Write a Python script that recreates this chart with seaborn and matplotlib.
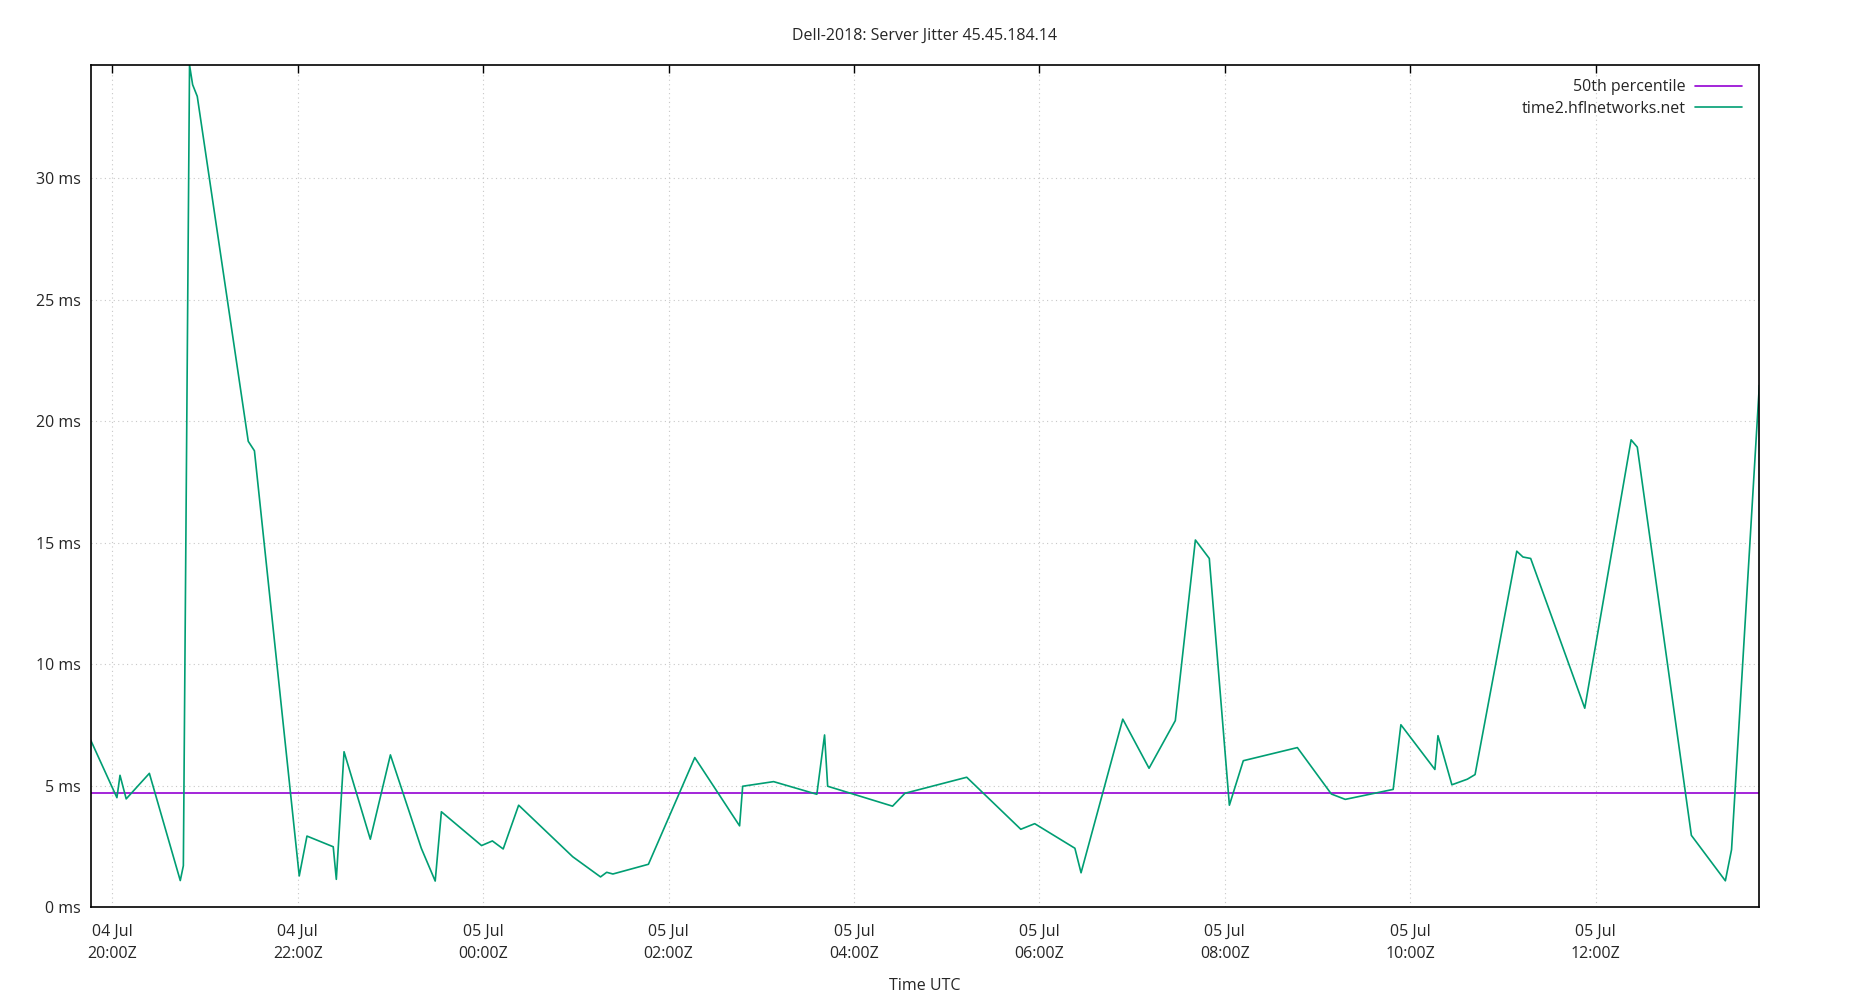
import numpy as np
import pandas as pd
import seaborn as sns
import matplotlib.pyplot as plt
import matplotlib.dates as mdates

# jitter samples for time2.hflnetworks.net (UTC)
times = [
    "07-04 19:46", "07-04 20:03", "07-04 20:05", "07-04 20:09", "07-04 20:24",
    "07-04 20:44", "07-04 20:46", "07-04 20:50", "07-04 20:52", "07-04 20:55",
    "07-04 21:28", "07-04 21:32", "07-04 22:01", "07-04 22:06", "07-04 22:23",
    "07-04 22:25", "07-04 22:30", "07-04 22:47", "07-04 23:00", "07-04 23:20",
    "07-04 23:29", "07-04 23:33", "07-04 23:59", "07-05 00:06", "07-05 00:13",
    "07-05 00:23", "07-05 00:58", "07-05 01:16", "07-05 01:20", "07-05 01:24",
    "07-05 01:47", "07-05 02:17", "07-05 02:46", "07-05 02:48", "07-05 03:08",
    "07-05 03:36", "07-05 03:41", "07-05 03:43", "07-05 04:25", "07-05 04:33",
    "07-05 05:13", "07-05 05:48", "07-05 05:57", "07-05 06:23", "07-05 06:27",
    "07-05 06:54", "07-05 07:11", "07-05 07:28", "07-05 07:41", "07-05 07:50",
    "07-05 08:03", "07-05 08:12", "07-05 08:47", "07-05 09:09", "07-05 09:18",
    "07-05 09:49", "07-05 09:54", "07-05 10:16", "07-05 10:18", "07-05 10:27",
    "07-05 10:37", "07-05 10:42", "07-05 11:09", "07-05 11:13", "07-05 11:18",
    "07-05 11:53", "07-05 12:23", "07-05 12:27", "07-05 13:02", "07-05 13:24",
    "07-05 13:28", "07-05 13:46",
]
jitter_ms = [
    6.88, 4.51, 5.43, 4.46, 5.51, 1.10, 1.71, 34.65, 33.84, 33.36,
    19.17, 18.78, 1.29, 2.93, 2.49, 1.15, 6.40, 2.80, 6.27, 2.43,
    1.08, 3.93, 2.54, 2.73, 2.40, 4.20, 2.08, 1.25, 1.44, 1.37,
    1.77, 6.16, 3.35, 4.98, 5.17, 4.65, 7.09, 4.98, 4.16, 4.69,
    5.35, 3.21, 3.44, 2.43, 1.42, 7.74, 5.72, 7.68, 15.11, 14.35,
    4.20, 6.03, 6.57, 4.66, 4.44, 4.85, 7.51, 5.67, 7.06, 5.04,
    5.27, 5.46, 14.65, 14.41, 14.35, 8.19, 19.23, 18.93, 2.96, 1.09,
    2.37, 21.47,
]
p50_ms = 4.69
server = "time2.hflnetworks.net"
title = "Dell-2018: Server Jitter 45.45.184.14"

df = pd.DataFrame({
    "time": pd.to_datetime(["2018-" + t for t in times], format="%Y-%m-%d %H:%M"),
    "jitter": jitter_ms,
})

FS = 11.5
sns.set_style("white")
plt.rcParams["font.family"] = ["Open Sans", "DejaVu Sans"]
plt.rcParams["font.size"] = FS

fig = plt.figure(figsize=(18.5, 10), dpi=100)
ax = fig.add_axes([0.049, 0.0927, 0.902, 0.8423])

ax.axhline(p50_ms, color="#9400d3", lw=1.2, label="50th percentile")
sns.lineplot(data=df, x="time", y="jitter", ax=ax, color="#009e73", lw=1.2,
             label=server)

ax.set_xlim(df["time"].min(), df["time"].max())
ax.set_ylim(0, max(jitter_ms))
ax.set_yticks(np.arange(0, 31, 5))
ax.set_yticklabels([f"{v} ms" for v in range(0, 31, 5)])
ax.xaxis.set_major_locator(mdates.HourLocator(byhour=range(0, 24, 2)))
ax.xaxis.set_major_formatter(mdates.DateFormatter("%d %b\n%H:%MZ"))

ax.grid(True, color="#c8c8c8", linestyle=(0, (1, 3)), lw=0.8)
for s in ax.spines.values():
    s.set_color("black")
    s.set_linewidth(1.2)
ax.tick_params(axis="x", direction="in", length=6, width=1, top=True, pad=12,
               labelsize=FS, color="black")
ax.tick_params(axis="y", direction="in", length=6, width=1, right=False, pad=7,
               labelsize=FS, color="black")
for lab in ax.get_xticklabels():
    lab.set_linespacing(1.5)

ax.set_xlabel("Time UTC", fontsize=FS, labelpad=11.5)
ax.set_ylabel("")
fig.text(0.5, 0.9645, title, ha="center", va="center", fontsize=FS)

ax.legend(loc="upper right", bbox_to_anchor=(0.9922, 0.9886), frameon=False,
          markerfirst=False, fontsize=FS, handlelength=2.9, handletextpad=0.6,
          labelspacing=0.35, borderaxespad=0, borderpad=0.3)

fig.savefig("out.png", dpi=100)
